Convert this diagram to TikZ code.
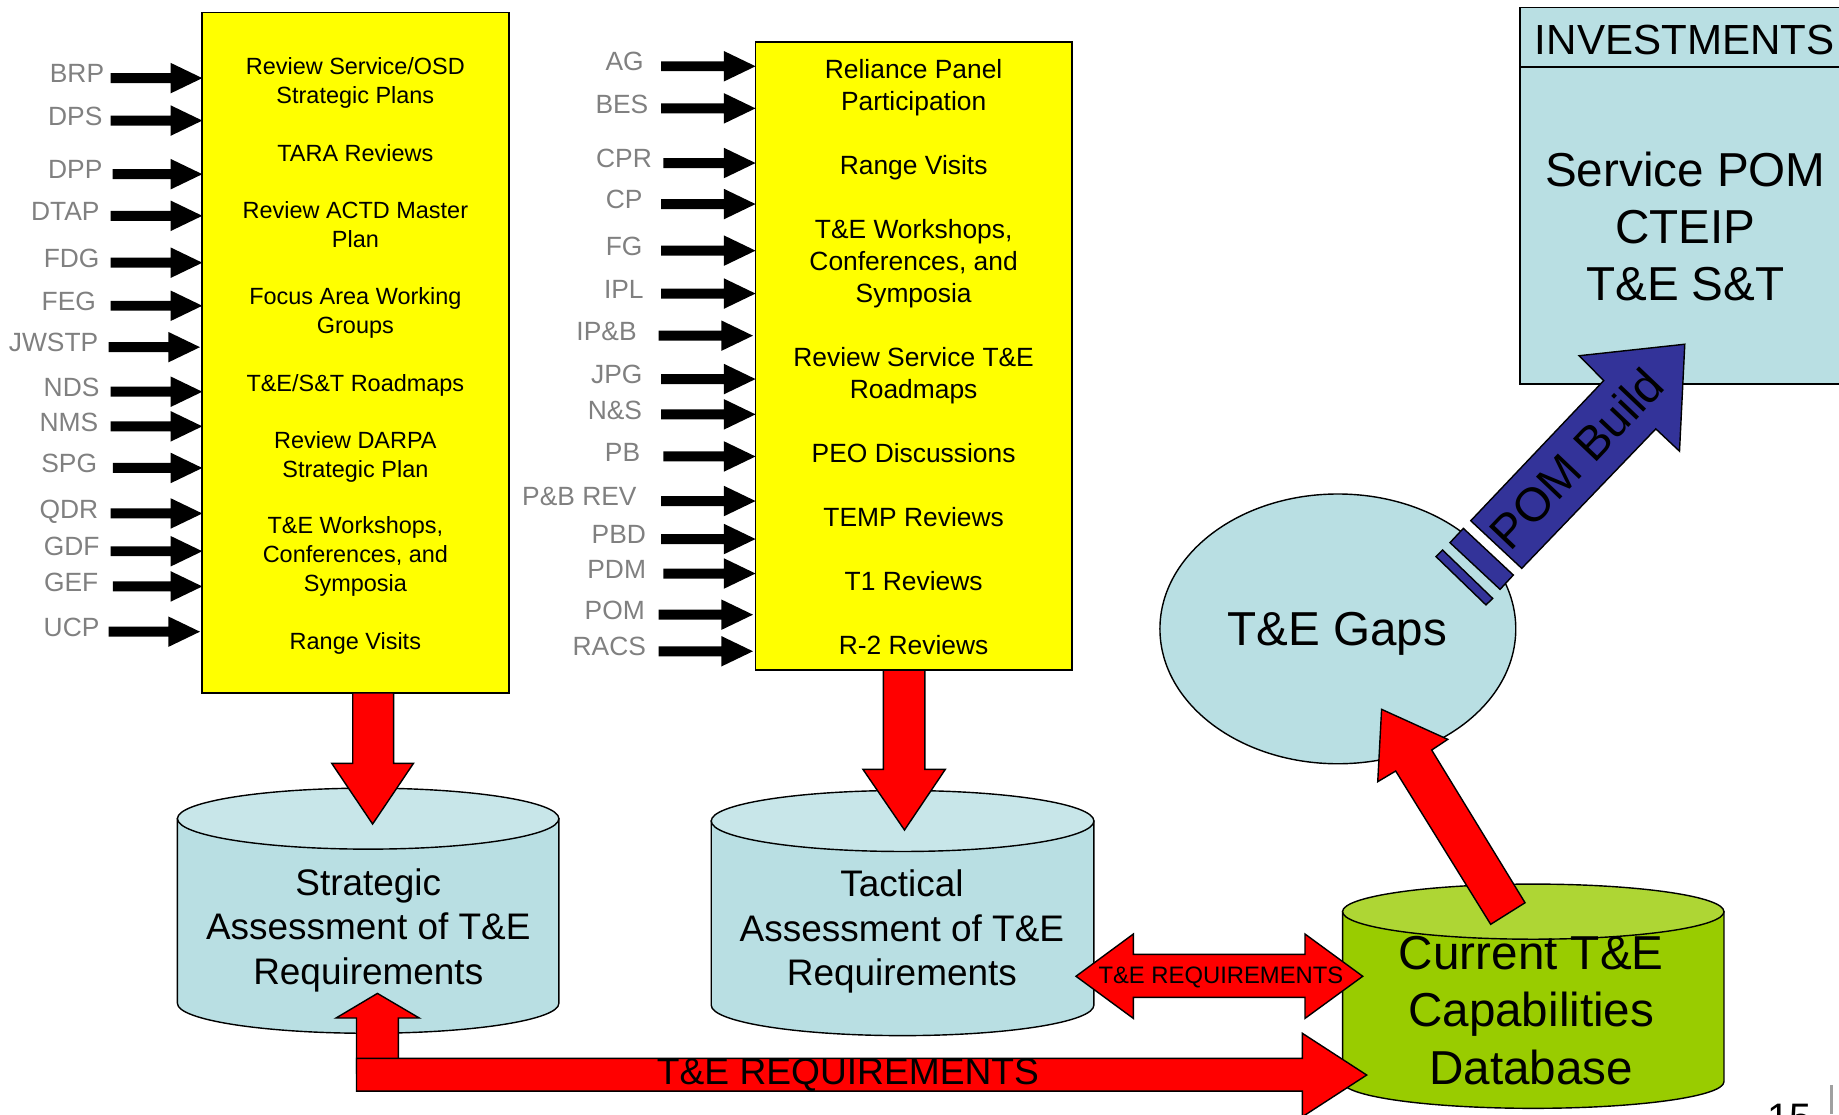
\documentclass[tikz,border=0pt]{standalone}
\usepackage{fontspec}
\setmainfont{Liberation Sans}
\usetikzlibrary{shapes.geometric}
\definecolor{ylw}{RGB}{255,255,0}
\definecolor{rd}{RGB}{255,0,0}
\definecolor{lb}{RGB}{185,223,227}
\definecolor{lbt}{RGB}{200,230,233}
\definecolor{grn}{RGB}{153,204,0}
\definecolor{grnt}{RGB}{174,214,52}
\definecolor{blu}{RGB}{51,51,153}
\definecolor{lgray}{RGB}{128,128,128}
\definecolor{pgline}{RGB}{160,160,160}
\tikzset{
  ybox/.style={draw, line width=1.5pt, fill=ylw, inner sep=0, outer sep=0, anchor=north west},
  srclbl/.style={font=\fontsize{22.5}{27}\selectfont, text=lgray, anchor=base east, inner sep=0},
  ltxt/.style={font=\fontsize{20}{24.5}\selectfont, align=center, inner sep=0},
  mtxt/.style={font=\fontsize{22.5}{27}\selectfont, align=center, inner sep=0},
  ctxt/.style={font=\fontsize{31.5}{38}\selectfont, align=center, inner sep=0},
  btxt/.style={font=\fontsize{40.6}{48.7}\selectfont, align=center, inner sep=0},
  outl/.style={draw=black, line width=1.2pt, line join=miter},
  redarr/.style={outl, fill=rd},
  bluarr/.style={outl, fill=blu},
}
% name, label, label right x, shaft start x, tip x, y
\newcommand\srcarr[6]{%
  \node[srclbl] (#1) at (#3,#6+4) {#2};
  \fill (#4,#6-4.25) -- (#5-27,#6-4.25) -- (#5-27,#6-13) -- (#5,#6) -- (#5-27,#6+13) -- (#5-27,#6+4.25) -- (#4,#6+4.25) -- cycle;
}
% cx, top cy, bottom cy, rx, ry top, ry bottom, body colour, top colour
\newcommand\drawcyl[8]{%
  \filldraw[outl, fill=#7] (#1-#4,#2) -- (#1-#4,#3) arc[start angle=180, end angle=360, x radius=#4pt, y radius=#6pt] -- (#1+#4,#2) -- cycle;
  \filldraw[outl, fill=#8] (#1,#2) ellipse [x radius=#4pt, y radius=#5pt];
}
\begin{document}
\begin{tikzpicture}[x=1pt, y=-1pt]
\useasboundingbox (0,0) rectangle (1568,950);
\clip (0,0) rectangle (1568,950);

% ---------- strategic source box ----------
\node[ybox, minimum width=261.8, minimum height=580.1] (sbox) at (172.5,10.7) {};
\node[ltxt] (s1) at (303,71) {Review Service/OSD\\Strategic Plans};
\node[ltxt] (s2) at (303,130.6) {TARA Reviews};
\node[ltxt] (s3) at (303,191.7) {Review ACTD Master\\Plan};
\node[ltxt] (s4) at (303,267) {Focus Area Working\\Groups};
\node[ltxt] (s5) at (303,328.6) {T\&E/S\&T Roadmaps};
\node[ltxt] (s6) at (303,389.4) {Review DARPA\\Strategic Plan};
\node[ltxt] (s7) at (303,474.5) {T\&E Workshops,\\Conferences, and\\Symposia};
\node[ltxt] (s8) at (303,548.3) {Range Visits};

\srcarr{lBRP}{BRP}{89}{94.4}{172.5}{66.6}
\srcarr{lDPS}{DPS}{87.5}{94.4}{172.5}{102.8}
\srcarr{lDPP}{DPP}{87.5}{96}{172.5}{148.5}
\srcarr{lDTAP}{DTAP}{85}{94.4}{172.5}{184}
\srcarr{lFDG}{FDG}{85}{94.4}{172.5}{224}
\srcarr{lFEG}{FEG}{82}{94.4}{172.5}{260.7}
\srcarr{lJWSTP}{JWSTP}{84}{92.6}{170.5}{296}
\srcarr{lNDS}{NDS}{85}{94.4}{172.5}{334}
\srcarr{lNMS}{NMS}{84}{94.4}{172.5}{363.5}
\srcarr{lSPG}{SPG}{83}{96.3}{172.5}{399}
\srcarr{lQDR}{QDR}{84}{94.4}{172.5}{437.8}
\srcarr{lGDF}{GDF}{85}{94.4}{172.5}{470}
\srcarr{lGEF}{GEF}{84}{96.3}{172.5}{500}
\srcarr{lUCP}{UCP}{85}{92.6}{170.5}{538.6}

% ---------- tactical source box ----------
\node[ybox, minimum width=270, minimum height=535.8] (tbox) at (644.2,35.7) {};
\node[mtxt] (t1) at (779,74.8) {Reliance Panel\\Participation};
\node[mtxt] (t2) at (779,143.2) {Range Visits};
\node[mtxt] (t3) at (779,224.8) {T\&E Workshops,\\Conferences, and\\Symposia};
\node[mtxt] (t4) at (779,320.5) {Review Service T\&E\\Roadmaps};
\node[mtxt] (t5) at (779,386) {PEO Discussions};
\node[mtxt] (t6) at (779,440.5) {TEMP Reviews};
\node[mtxt] (t7) at (779,495.4) {T1 Reviews};
\node[mtxt] (t8) at (779,550) {R-2 Reviews};

\srcarr{mAG}{AG}{549}{563.6}{644.2}{56.5}
\srcarr{mBES}{BES}{553}{563.6}{644.2}{92.4}
\srcarr{mCPR}{CPR}{556}{565.6}{644.2}{139}
\srcarr{mCP}{CP}{548}{563.6}{644.2}{174}
\srcarr{mFG}{FG}{548}{563.6}{644.2}{213.7}
\srcarr{mIPL}{IPL}{549}{563.6}{644.2}{250.3}
\srcarr{mIPB}{IP\&B}{543}{561.5}{642}{286.2}
\srcarr{mJPG}{JPG}{548}{563.6}{644.2}{323.2}
\srcarr{mNS}{N\&S}{547.6}{563.6}{644.2}{353.3}
\srcarr{mPB}{PB}{546}{565.6}{644.2}{389.2}
\srcarr{mPBREV}{P\&B REV}{543}{563.6}{644.2}{427.2}
\srcarr{mPBD}{PBD}{551}{563.6}{644.2}{459.6}
\srcarr{mPDM}{PDM}{551}{565.6}{644.2}{489}
\srcarr{mPOM}{POM}{550}{561.5}{642}{524.1}
\srcarr{mRACS}{RACS}{551}{561.5}{642}{555.3}

% ---------- assessment cylinders ----------
\drawcyl{313.9}{698}{855.5}{162.6}{26}{25.5}{lb}{lbt}
\node[ctxt] (strat) at (314,793) {Strategic\\Assessment of T\&E\\Requirements};
\drawcyl{769.55}{700}{857}{163.15}{26}{26}{lb}{lbt}
\node[ctxt] (tact) at (769,794.5) {Tactical\\Assessment of T\&E\\Requirements};

% red arrows from boxes to cylinders
\filldraw[redarr] (300.8,590.8) -- (300.8,650.9) -- (282.9,650.9) -- (317.7,702.6) -- (352.5,650.9) -- (335.6,650.9) -- (335.6,590.8) -- cycle;
\filldraw[redarr] (753.2,571.5) -- (753.2,656) -- (735.8,656) -- (771.2,707.7) -- (806,656) -- (788.6,656) -- (788.6,571.5) -- cycle;

% up arrow into strategic cylinder
\filldraw[redarr] (304,915) -- (304,868) -- (286.5,868) -- (321.8,847) -- (357.5,868) -- (339.6,868) -- (339.6,915) -- cycle;

% ---------- current capabilities database ----------
\drawcyl{1307.3}{777.3}{922.3}{162.6}{23.5}{22.7}{grn}{grnt}

% bottom long arrow
\filldraw[redarr] (304,902.4) -- (1110.4,902.4) -- (1110.4,881) -- (1165.3,916.6) -- (1110.4,952.2) -- (1110.4,930.3) -- (304,930.3) -- cycle;
\node[font=\fontsize{31.7}{38}\selectfont, inner sep=0] (req1) at (723,917) {T\&E REQUIREMENTS};

% double arrow
\filldraw[redarr] (917.4,832.4) -- (966.3,796.4) -- (966.3,813.7) -- (1112.7,813.7) -- (1112.7,796.4) -- (1161.9,832.4) -- (1112.7,868.3) -- (1112.7,850.4) -- (966.3,850.4) -- (966.3,868.3) -- cycle;
\node[font=\fontsize{20.3}{24}\selectfont, inner sep=0] (req2) at (1041,833.3) {T\&E REQUIREMENTS};

\node[btxt] (cur) at (1305.6,861.6) {Current T\&E\\Capabilities\\Database};

% ---------- gaps ----------
\node[ellipse, outl, fill=lb, minimum width=303.4, minimum height=230, inner sep=0, outer sep=0] (gaps) at (1140.7,536.2) {};
\node[btxt] (gapst) at (1140.2,540.4) {T\&E Gaps};
\filldraw[redarr] (1271,788.1) -- (1190,657.4) -- (1174.7,666.5) -- (1178,604.8) -- (1234.4,630.4) -- (1220.7,639.5) -- (1300.3,769.7) -- cycle;

% ---------- investments ----------
\node[outl, fill=lb, anchor=north west, minimum width=330, minimum height=321.1, inner sep=0, outer sep=0] (inv) at (1295.9,6.4) {};
\draw[outl] (1295.9,57.3) -- (1640,57.3);
\node[font=\fontsize{35.9}{43}\selectfont, inner sep=0] (invh) at (1436.4,34) {INVESTMENTS};
\node[btxt] (invb) at (1437,193) {Service POM\\CTEIP\\T\&E S\&T};

% POM build arrow
\filldraw[bluarr] (1254,444) -- (1367.4,324.5) -- (1346.4,303.3) -- (1436.5,293.5) -- (1432,384.7) -- (1411.8,365.7) -- (1297.5,484.6) -- cycle;
\filldraw[bluarr] (1236.3,462.7) -- (1247.7,450.5) -- (1290.3,490.3) -- (1279,502.5) -- cycle;
\filldraw[bluarr] (1224.4,474.6) -- (1230,469) -- (1272.7,510.2) -- (1267,515.8) -- cycle;
\node[btxt, rotate=46.5] (pomb) at (1344,391) {POM Build};

% page number
\node[font=\fontsize{33.9}{40}\selectfont, anchor=base west, inner sep=0] (pg) at (1506.9,965) {15};
\draw[pgline, line width=2.3pt] (1561.8,925) -- (1561.8,950);
\end{tikzpicture}
\end{document}
